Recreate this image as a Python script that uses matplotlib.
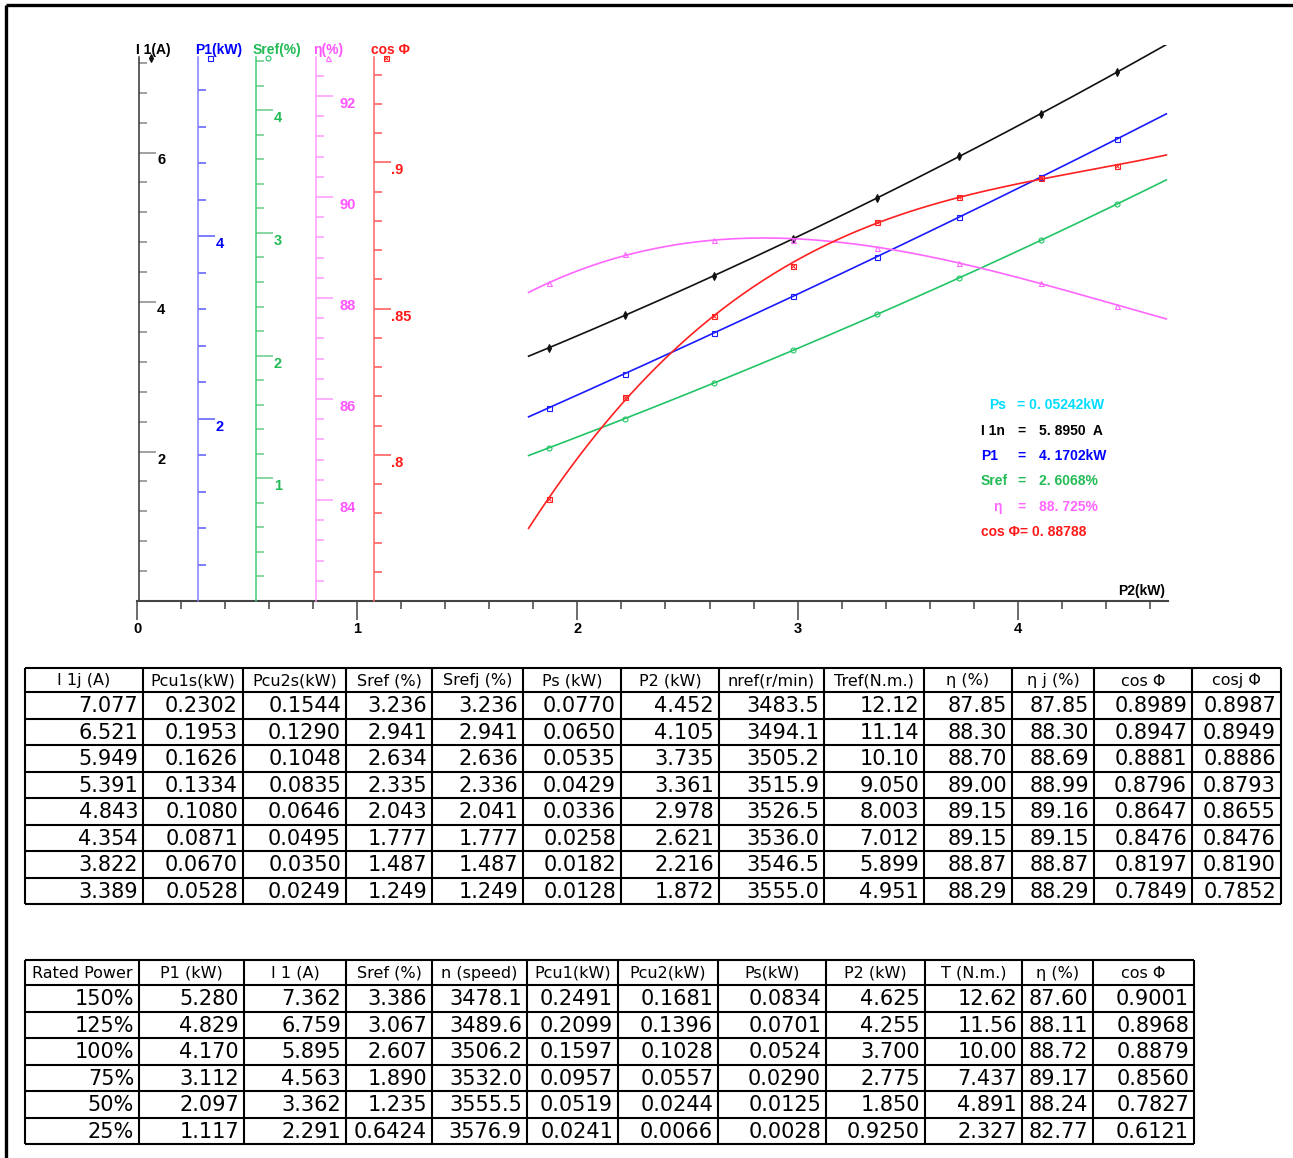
import numpy as np
import matplotlib
matplotlib.use("Agg")
import matplotlib.pyplot as plt
from matplotlib import transforms
from matplotlib.ticker import FixedLocator

# ---------------- data ----------------
P2 = [4.452, 4.105, 3.735, 3.361, 2.978, 2.621, 2.216, 1.872]
I1 = [7.077, 6.521, 5.949, 5.391, 4.843, 4.354, 3.822, 3.389]
P1 = [5.068, 4.649, 4.211, 3.776, 3.340, 2.940, 2.494, 2.120]
SREF = [3.236, 2.941, 2.634, 2.335, 2.043, 1.777, 1.487, 1.249]
ETA = [87.85, 88.30, 88.70, 89.00, 89.15, 89.15, 88.87, 88.29]
COSPHI = [0.8989, 0.8947, 0.8881, 0.8796, 0.8647, 0.8476, 0.8197, 0.7849]

X_TICKS = [0, 1, 2, 3, 4]
X_TICK_LABELS = ['0', '1', '2', '3', '4']
I1_TICKS = [2, 4, 6]
I1_TICK_LABELS = ['2', '4', '6']
P1_TICKS = [2, 4]
P1_TICK_LABELS = ['2', '4']
SREF_TICKS = [1, 2, 3, 4]
SREF_TICK_LABELS = ['1', '2', '3', '4']
ETA_TICKS = [84, 86, 88, 90, 92]
ETA_TICK_LABELS = ['84', '86', '88', '90', '92']
COS_TICKS = [0.80, 0.85, 0.90]
COS_TICK_LABELS = ['.8', '.85', '.9']

AXIS_TITLES = ['I 1(A)', 'P1(kW)', 'Sref(%)', 'η(%)', 'cos Φ']
X_TITLE = 'P2(kW)'

LEGEND_LABELS = ['Ps', 'I 1n', 'P1', 'Sref', 'η', 'cos Φ']
LEGEND_VALUES = ['0. 05242kW', '5. 8950  A', '4. 1702kW', '2. 6068%', '88. 725%', '0. 88788']

T1_HEADERS = ['I 1j (A)', 'Pcu1s(kW)', 'Pcu2s(kW)', 'Sref (%)', 'Srefj (%)', 'Ps (kW)',
              'P2 (kW)', 'nref(r/min)', 'Tref(N.m.)', 'η (%)', 'η j (%)', 'cos Φ', 'cosj Φ']
T1_I1J = ['7.077', '6.521', '5.949', '5.391', '4.843', '4.354', '3.822', '3.389']
T1_PCU1S = ['0.2302', '0.1953', '0.1626', '0.1334', '0.1080', '0.0871', '0.0670', '0.0528']
T1_PCU2S = ['0.1544', '0.1290', '0.1048', '0.0835', '0.0646', '0.0495', '0.0350', '0.0249']
T1_SREF = ['3.236', '2.941', '2.634', '2.335', '2.043', '1.777', '1.487', '1.249']
T1_SREFJ = ['3.236', '2.941', '2.636', '2.336', '2.041', '1.777', '1.487', '1.249']
T1_PS = ['0.0770', '0.0650', '0.0535', '0.0429', '0.0336', '0.0258', '0.0182', '0.0128']
T1_P2 = ['4.452', '4.105', '3.735', '3.361', '2.978', '2.621', '2.216', '1.872']
T1_NREF = ['3483.5', '3494.1', '3505.2', '3515.9', '3526.5', '3536.0', '3546.5', '3555.0']
T1_TREF = ['12.12', '11.14', '10.10', '9.050', '8.003', '7.012', '5.899', '4.951']
T1_ETA = ['87.85', '88.30', '88.70', '89.00', '89.15', '89.15', '88.87', '88.29']
T1_ETAJ = ['87.85', '88.30', '88.69', '88.99', '89.16', '89.15', '88.87', '88.29']
T1_COS = ['0.8989', '0.8947', '0.8881', '0.8796', '0.8647', '0.8476', '0.8197', '0.7849']
T1_COSJ = ['0.8987', '0.8949', '0.8886', '0.8793', '0.8655', '0.8476', '0.8190', '0.7852']

T2_HEADERS = ['Rated Power', 'P1 (kW)', 'I 1 (A)', 'Sref (%)', 'n (speed)', 'Pcu1(kW)',
              'Pcu2(kW)', 'Ps(kW)', 'P2 (kW)', 'T (N.m.)', 'η (%)', 'cos Φ']
T2_RATED = ['150%', '125%', '100%', '75%', '50%', '25%']
T2_P1 = ['5.280', '4.829', '4.170', '3.112', '2.097', '1.117']
T2_I1 = ['7.362', '6.759', '5.895', '4.563', '3.362', '2.291']
T2_SREF = ['3.386', '3.067', '2.607', '1.890', '1.235', '0.6424']
T2_N = ['3478.1', '3489.6', '3506.2', '3532.0', '3555.5', '3576.9']
T2_PCU1 = ['0.2491', '0.2099', '0.1597', '0.0957', '0.0519', '0.0241']
T2_PCU2 = ['0.1681', '0.1396', '0.1028', '0.0557', '0.0244', '0.0066']
T2_PS = ['0.0834', '0.0701', '0.0524', '0.0290', '0.0125', '0.0028']
T2_P2 = ['4.625', '4.255', '3.700', '2.775', '1.850', '0.9250']
T2_T = ['12.62', '11.56', '10.00', '7.437', '4.891', '2.327']
T2_ETA = ['87.60', '88.11', '88.72', '89.17', '88.24', '82.77']
T2_COS = ['0.9001', '0.8968', '0.8879', '0.8560', '0.7827', '0.6121']

# ---------------- layout (pixels) ----------------
W, H, DPI = 1293, 1158, 100
X0, X1 = 137, 1168          # plot box left / right
YB, YT = 601, 45            # plot box bottom / top
SPINE_TOP = 57
PX_PER_KW = 220.2
FONT = 'Liberation Sans'

fig = plt.figure(figsize=(W / DPI, H / DPI), dpi=DPI)
fig.patch.set_facecolor('white')

lay = fig.add_axes([0, 0, 1, 1], zorder=0)
lay.set_xlim(0, W)
lay.set_ylim(H, 0)
lay.axis('off')

# outer frame (top and left edges visible)
lay.plot([6, 6], [H, 5], color='black', lw=2.4, solid_capstyle='butt')
lay.plot([6, W], [5, 5], color='black', lw=2.4, solid_capstyle='butt')

ax = fig.add_axes([X0 / W, 1 - YB / H, (X1 - X0) / W, (YB - YT) / H], zorder=2)
ax.set_xlim(0, (X1 - X0) / PX_PER_KW)
ax.patch.set_visible(False)

# axis specs: (axes, data, ticks, labels, lo, px per unit, minor step, spine px, colours...)
specs = [
    dict(series=I1, ticks=I1_TICKS, labels=I1_TICK_LABELS, lo=0.0, ppu=74.75, step=0.4,
         xpx=139, line='#111111', spine='#333333', tick='#888888', txt='#000000',
         marker='d', lab_dx=18),
    dict(series=P1, ticks=P1_TICKS, labels=P1_TICK_LABELS, lo=0.0, ppu=91.2, step=0.4,
         xpx=198, line='#1a1aff', spine='#8080ff', tick='#5a5aff', txt='#0000ff',
         marker='s', lab_dx=18),
    dict(series=SREF, ticks=SREF_TICKS, labels=SREF_TICK_LABELS, lo=0.0, ppu=122.7, step=0.2,
         xpx=256, line='#22c566', spine='#44cc77', tick='#66cc88', txt='#22bb55',
         marker='o', lab_dx=18),
    dict(series=ETA, ticks=ETA_TICKS, labels=ETA_TICK_LABELS, lo=82.0, ppu=50.5, step=0.4,
         xpx=316, line='#ff66ff', spine='#ff99ff', tick='#ff99ff', txt='#ff55ff',
         marker='^', lab_dx=23),
    dict(series=COSPHI, ticks=COS_TICKS, labels=COS_TICK_LABELS, lo=0.75, ppu=2924.0, step=0.01,
         xpx=374, line='#ff2020', spine='#ff6666', tick='#ff5555', txt='#ff1a1a',
         marker='s', lab_dx=17),
]

x_fit = np.linspace(0.95 * min(P2), 1.05 * max(P2), 300)
span_px = YB - YT

for i, sp in enumerate(specs):
    a = ax if i == 0 else ax.twinx()
    a.set_zorder(2 + i)
    a.patch.set_visible(False)
    lo, ppu = sp['lo'], sp['ppu']
    hi = lo + span_px / ppu
    a.set_ylim(lo, hi)
    top_val = lo + (YB - SPINE_TOP) / ppu
    frac = (sp['xpx'] - X0) / (X1 - X0)
    for s in ['top', 'right', 'bottom']:
        if not (i == 0 and s == 'bottom'):
            a.spines[s].set_visible(False)
    a.spines['left'].set_visible(True)
    a.spines['left'].set_position(('axes', frac))
    a.spines['left'].set_bounds(lo, top_val)
    a.spines['left'].set_color(sp['spine'])
    a.spines['left'].set_linewidth(1.1)
    a.yaxis.set_ticks_position('left')
    minor = [v for v in np.arange(lo + sp['step'], top_val, sp['step'])
             if all(abs(v - t) > 1e-6 for t in sp['ticks'])]
    a.yaxis.set_major_locator(FixedLocator(sp['ticks']))
    a.yaxis.set_minor_locator(FixedLocator(minor))
    a.tick_params(axis='y', which='both', direction='in', labelleft=False,
                  labelright=False, colors=sp['tick'], width=1.1)
    a.tick_params(axis='y', which='major', length=12.3)
    a.tick_params(axis='y', which='minor', length=5.8)
    # tick labels to the right of the spine
    tr = transforms.blended_transform_factory(a.transAxes, a.transData)
    tr = tr + transforms.ScaledTranslation(sp['lab_dx'] / DPI, -8 / DPI, fig.dpi_scale_trans)
    for v, lab in zip(sp['ticks'], sp['labels']):
        a.text(frac, v, lab, transform=tr, ha='left', va='center', color=sp['txt'],
               fontsize=10.5, fontweight='bold', family=FONT, clip_on=False)
    # curve and markers
    coef = np.polyfit(P2, sp['series'], 3)
    a.plot(x_fit, np.polyval(coef, x_fit), color=sp['line'], lw=1.2, zorder=3)
    mfill = sp['line'] if sp['marker'] == 'd' else 'none'
    a.plot(P2, sp['series'], ls='none', marker=sp['marker'], ms=3.6, mfc=mfill,
           mec=sp['line'], mew=0.8, zorder=4)
    if i == 4:
        a.plot(P2, sp['series'], ls='none', marker='x', ms=3.0, mec=sp['line'],
               mew=0.7, zorder=4)
    # axis title and marker at spine top
    lay.text(sp['xpx'] - 3, 50, AXIS_TITLES[i], ha='left', va='center', color=sp['txt'],
             fontsize=10, fontweight='bold', family=FONT)
    lay.plot([sp['xpx'] + 12], [58], ls='none', marker=sp['marker'], ms=3.6,
             mfc=mfill, mec=sp['line'], mew=0.8)
    if i == 4:
        lay.plot([sp['xpx'] + 12], [58], ls='none', marker='x', ms=3.0,
                 mec=sp['line'], mew=0.7)

# x axis
ax.spines['bottom'].set_color('#444444')
ax.spines['bottom'].set_linewidth(1.5)
ax.xaxis.set_ticks_position('bottom')
ax.set_xticks(X_TICKS, labels=X_TICK_LABELS, fontsize=10.5, fontweight='bold', family=FONT)
ax.xaxis.set_minor_locator(FixedLocator([v for v in np.arange(0.2, 4.65, 0.2)
                                         if abs(v - round(v)) > 1e-6]))
ax.tick_params(axis='x', which='both', direction='out', colors='#444444', width=1.1,
               labelcolor='black', pad=1)
ax.tick_params(axis='x', which='major', length=14)
ax.tick_params(axis='x', which='minor', length=5.4)
lay.text(1165, 591, X_TITLE, ha='right', va='center', fontsize=10, fontweight='bold',
         family=FONT, color='black')

# value block
leg_colors = ['#00ddff', '#000000', '#0000ff', '#22bb55', '#ff66ff', '#ff1a1a']
leg_y = [405, 431, 456, 481, 507, 532]
leg_lx = [989, 981, 981, 981, 993, 981]
for k in range(6):
    kw = dict(va='center', ha='left', fontsize=10, fontweight='bold', family=FONT,
              color=leg_colors[k])
    if k == 0:
        lay.text(leg_lx[k], leg_y[k], LEGEND_LABELS[k], **kw)
        lay.text(1017, leg_y[k], '= ' + LEGEND_VALUES[k], **kw)
    elif k == 5:
        lay.text(leg_lx[k], leg_y[k], LEGEND_LABELS[k] + '= ' + LEGEND_VALUES[k], **kw)
    else:
        lay.text(leg_lx[k], leg_y[k], LEGEND_LABELS[k], **kw)
        lay.text(1017, leg_y[k], '=', **kw)
        lay.text(1039, leg_y[k], LEGEND_VALUES[k], **kw)


# ---------------- tables ----------------
def draw_table(col_x, top, head_h, row_h, headers, columns, head_fs=11.5, data_fs=15):
    n = len(columns[0])
    bottom = top + head_h + n * row_h
    lay.vlines(col_x, top, bottom, color='black', lw=1.5)
    ys = [top, top + head_h] + [top + head_h + (r + 1) * row_h for r in range(n)]
    lay.hlines(ys, col_x[0], col_x[-1], color='black', lw=1.5)
    for c, hdr in enumerate(headers):
        lay.text((col_x[c] + col_x[c + 1]) / 2, top + head_h / 2 + 1, hdr,
                 ha='center', va='center', fontsize=head_fs, family='DejaVu Sans')
        for r, val in enumerate(columns[c]):
            lay.text(col_x[c + 1] - 5, top + head_h + (r + 0.5) * row_h + 1, val,
                     ha='right', va='center', fontsize=data_fs, family='DejaVu Sans')


T1_COLX = [25, 143, 243, 346, 432, 523, 621, 719, 824, 924, 1012, 1094, 1192, 1281]
draw_table(T1_COLX, 668, 24, 26.5, T1_HEADERS,
           [T1_I1J, T1_PCU1S, T1_PCU2S, T1_SREF, T1_SREFJ, T1_PS, T1_P2, T1_NREF,
            T1_TREF, T1_ETA, T1_ETAJ, T1_COS, T1_COSJ])

T2_COLX = [25, 139, 244, 346, 432, 527, 618, 718, 826, 925, 1022, 1093, 1194]
draw_table(T2_COLX, 960, 25, 26.5, T2_HEADERS,
           [T2_RATED, T2_P1, T2_I1, T2_SREF, T2_N, T2_PCU1, T2_PCU2, T2_PS, T2_P2,
            T2_T, T2_ETA, T2_COS])

fig.savefig('out.png', dpi=DPI, facecolor='white')
